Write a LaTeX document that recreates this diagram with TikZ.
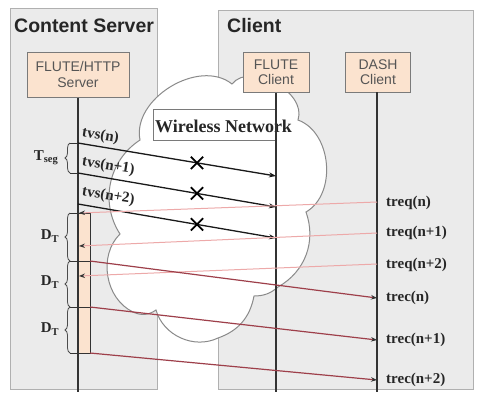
\documentclass[tikz,border=0pt]{standalone}
\usepackage{fontspec}
\setmainfont{Liberation Serif}
\setsansfont{Liberation Sans}
\usetikzlibrary{arrows.meta,decorations.pathreplacing,shapes.misc}
\definecolor{panel}{HTML}{EBEBEB}
\definecolor{panelborder}{HTML}{B0B0B0}
\definecolor{peach}{HTML}{FBE3CF}
\definecolor{boxborder}{HTML}{7A7A7A}
\definecolor{boxtext}{HTML}{555555}
\definecolor{reqred}{HTML}{EDA9A9}
\definecolor{recred}{HTML}{9E3F4A}
\definecolor{cloudline}{HTML}{8A8A8A}
\tikzset{
  panelbox/.style={fill=panel, draw=panelborder, line width=1pt},
  compbox/.style={fill=peach, draw=boxborder, line width=1pt, font=\sffamily\fontsize{14}{15.5}\selectfont,
    text=boxtext, align=center, inner sep=0pt},
  title/.style={font=\sffamily\bfseries\fontsize{19.5}{20}\selectfont, text=black!85, anchor=west, inner sep=0pt},
  lifeline/.style={draw=black!80, line width=1.4pt},
  cloudshape/.style={fill=white, draw=cloudline, line width=1pt},
  wnbox/.style={draw=boxborder, fill=white, line width=1pt, minimum width=122pt, minimum height=31pt, inner sep=0pt},
  wntext/.style={font=\bfseries\fontsize{18}{19}\selectfont, text=black!85, anchor=west, inner sep=0pt},
  msg/.style={draw=black!90, line width=1.3pt, -{Stealth[length=7pt,width=5pt]}},
  req/.style={draw=reqred, line width=1pt, -{Stealth[length=6pt,width=4.5pt,color=black!80]}},
  rec/.style={draw=recred, line width=1.2pt, -{Stealth[length=6pt,width=4.5pt,color=black!80]}},
  lost/.style={cross out, draw=black, line width=1.8pt, minimum size=10.5pt, inner sep=0pt},
  lbl/.style={font=\bfseries\fontsize{15}{16}\selectfont, text=black!85, inner sep=0pt},
  bar/.style={fill=peach, draw=black!80, line width=1pt},
  tick/.style={draw=black!80, line width=1pt},
  brc/.style={draw=black!70, line width=0.8pt, decorate, decoration={brace, amplitude=5pt}}
}
\begin{document}
\begin{tikzpicture}[x=1pt,y=-1pt]
\useasboundingbox (0,0) rectangle (478,392);
\fill[white] (0,0) rectangle (478,392);
% panels
\draw[panelbox] (10,8) rectangle (157,389);
\draw[panelbox] (218,10) rectangle (473,389);
% cloud
\draw[cloudshape] (140,140) to[bend left=70] (232,84) to[bend left=80] (298,120)
  to[bend left=65] (306,212) to[bend left=40] (278,287) to[bend left=20] (254,296)
  to[bend left=30] (218,338) to[bend left=50] (156,310) to[bend left=30] (133,312)
  to[bend left=55] (120,234) to[bend left=45] (140,140) -- cycle;
% titles
\node[title] (tcs) at (14,26) {Content Server};
\node[title] (tcl) at (227,26) {Client};
% wireless network
\node[wnbox] (wbox) at (214,124.5) {};
\node[wntext] (wtext) at (155,126) {Wireless Network};
% components
\node[compbox, minimum width=102pt, minimum height=45pt] (srv) at (78,74.5) {FLUTE/HTTP\\Server};
\node[compbox, minimum width=66pt, minimum height=40pt] (fc) at (276,72) {FLUTE\\Client};
\node[compbox, minimum width=65pt, minimum height=40pt] (dc) at (378,72) {DASH\\Client};
% lifelines
\coordinate (srvb) at (78,392);
\coordinate (fcb) at (276,392);
\coordinate (dcb) at (377,392);
\draw[lifeline] (srv.south) -- (srvb);
\draw[lifeline] (fc.south) -- (fcb);
\draw[lifeline] (377,92) -- (dcb);
% bar
\draw[bar] (78,213) rectangle (90,353);
\coordinate (d0l) at (70,213); \coordinate (d0r) at (90,213);
\coordinate (d1l) at (70,261); \coordinate (d1r) at (90,261);
\coordinate (d2l) at (70,307); \coordinate (d2r) at (90,307);
\coordinate (d3l) at (70,353); \coordinate (d3r) at (90,353);
\draw[tick] (d0l) -- (d0r);
\draw[tick] (d1l) -- (d1r);
\draw[tick] (d2l) -- (d2r);
\draw[tick] (d3l) -- (d3r);
\draw[brc] (d1l) -- (d0l);
\draw[brc] (d2l) -- (d1l);
\draw[brc] (d3l) -- (d2l);
\node[lbl] (dt1) at (50,236) {D\textsubscript{T}};
\node[lbl] (dt2) at (50,282) {D\textsubscript{T}};
\node[lbl] (dt3) at (50,329) {D\textsubscript{T}};
% tseg
\coordinate (s1) at (78,143); \coordinate (e1) at (276,176);
\coordinate (s2) at (78,173); \coordinate (e2) at (276,207);
\coordinate (s3) at (78,204); \coordinate (e3) at (276,238);
\coordinate (g1) at (70,143); \coordinate (g2) at (70,173);
\draw[tick] (g1) -- (s1);
\draw[tick] (g2) -- (s2);
\draw[brc] (g2) -- (g1);
\node[lbl] (tseg) at (46,158) {T\textsubscript{seg}};
% FLUTE pushes
\draw[msg] (s1) -- (e1);
\draw[msg] (s2) -- (e2);
\draw[msg] (s3) -- (e3);
\node[lost] (x1) at (197,162.8) {};
\node[lost] (x2) at (197,193.4) {};
\node[lost] (x3) at (197,224.4) {};
\node[lbl, anchor=south west, rotate=-9] (l1) at (81,140) {tvs(n)};
\node[lbl, anchor=south west, rotate=-9] (l2) at (81,169) {tvs(n+1)};
\node[lbl, anchor=south west, rotate=-9] (l3) at (81,199) {tvs(n+2)};
% requests
\coordinate (q1) at (377,202); \coordinate (q1e) at (79,213);
\coordinate (q2) at (377,233); \coordinate (q2e) at (79,246);
\coordinate (q3) at (377,264); \coordinate (q3e) at (79,276);
\draw[req] (q1) -- (q1e);
\draw[req] (q2) -- (q2e);
\draw[req] (q3) -- (q3e);
% responses
\coordinate (r1) at (377,298);
\coordinate (r2) at (377,340);
\coordinate (r3) at (377,380);
\draw[rec] (d1r) -- (r1);
\draw[rec] (d2r) -- (r2);
\draw[rec] (d3r) -- (r3);
% right labels
\node[lbl, anchor=west] (tq1) at (386,203) {treq(n)};
\node[lbl, anchor=west] (tq2) at (386,233) {treq(n+1)};
\node[lbl, anchor=west] (tq3) at (386,265) {treq(n+2)};
\node[lbl, anchor=west] (tc1) at (386,298) {trec(n)};
\node[lbl, anchor=west] (tc2) at (386,340) {trec(n+1)};
\node[lbl, anchor=west] (tc3) at (386,380) {trec(n+2)};
\end{tikzpicture}
\end{document}
